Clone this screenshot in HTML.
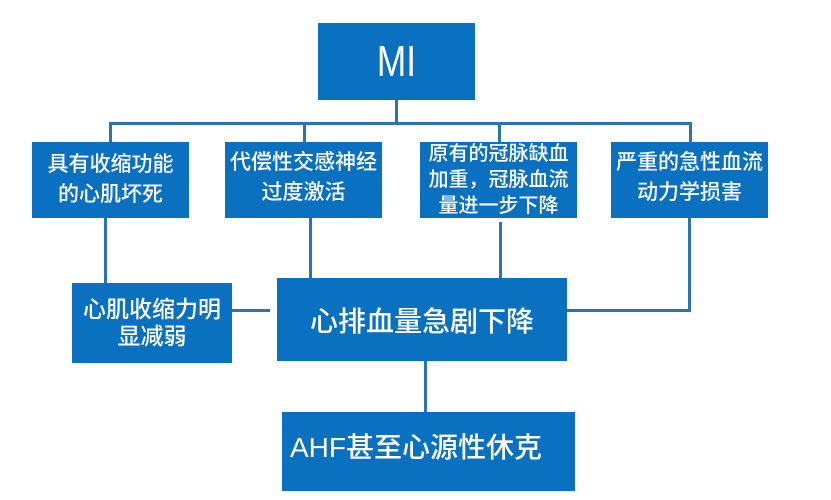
<!DOCTYPE html>
<html><head><meta charset="utf-8"><style>
body{margin:0;width:831px;height:500px;background:#fff;position:relative;overflow:hidden;font-family:"Liberation Sans","Noto Sans CJK SC",sans-serif}
.b{position:absolute;background:#0a70c0;color:#fff;display:flex;align-items:center;justify-content:center;text-align:center;white-space:nowrap}
.l{position:absolute;background:#2a74b4}
.s{font-size:21px;line-height:30px;font-weight:500}
</style></head><body>
<div class="l" style="left:395px;top:100px;width:3px;height:24px"></div>
<div class="l" style="left:109px;top:122px;width:583px;height:3px"></div>
<div class="l" style="left:109px;top:122px;width:3px;height:21px"></div>
<div class="l" style="left:303px;top:122px;width:3px;height:21px"></div>
<div class="l" style="left:498px;top:122px;width:3px;height:21px"></div>
<div class="l" style="left:689px;top:122px;width:3px;height:21px"></div>
<div class="l" style="left:104px;top:218px;width:3px;height:66px"></div>
<div class="l" style="left:309px;top:218px;width:3px;height:60px"></div>
<div class="l" style="left:499px;top:222px;width:3px;height:60px"></div>
<div class="l" style="left:688px;top:218px;width:3px;height:94px"></div>
<div class="l" style="left:551px;top:309px;width:140px;height:3px"></div>
<div class="l" style="left:232px;top:309px;width:38px;height:3px"></div>
<div class="l" style="left:424px;top:361px;width:3px;height:52px"></div>
<div class="b" style="left:318px;top:23px;width:157px;height:77px;font-size:44px;font-weight:300"><span style="display:inline-block;transform:scaleX(0.8)">MI</span></div>
<div class="b s" style="left:32px;top:142px;width:157px;height:76px">具有收缩功能<br>的心肌坏死</div>
<div class="b s" style="left:225px;top:142px;width:157px;height:76px;align-items:flex-start;padding-top:6px;box-sizing:border-box">代偿性交感神经<br>过度激活</div>
<div class="b s" style="left:420px;top:142px;width:157px;height:76px;line-height:26px;font-size:20px">原有的冠脉缺血<br>加重，冠脉血流<br>量进一步下降</div>
<div class="b s" style="left:611px;top:142px;width:157px;height:76px;align-items:flex-start;padding-top:6px;box-sizing:border-box">严重的急性血流<br>动力学损害</div>
<div class="b s" style="left:72px;top:283px;width:160px;height:80px;font-size:23px;line-height:27px">心肌收缩力明<br>显减弱</div>
<div class="b" style="left:277px;top:278px;width:290px;height:83px;font-size:28px;font-weight:500">心排血量急剧下降</div>
<div class="b" style="left:282px;top:412px;width:293px;height:79px;font-size:28px;font-weight:500;align-items:flex-start;padding-top:14px;box-sizing:border-box;justify-content:flex-start;padding-left:8px">AHF甚至心源性休克</div>
</body></html>
